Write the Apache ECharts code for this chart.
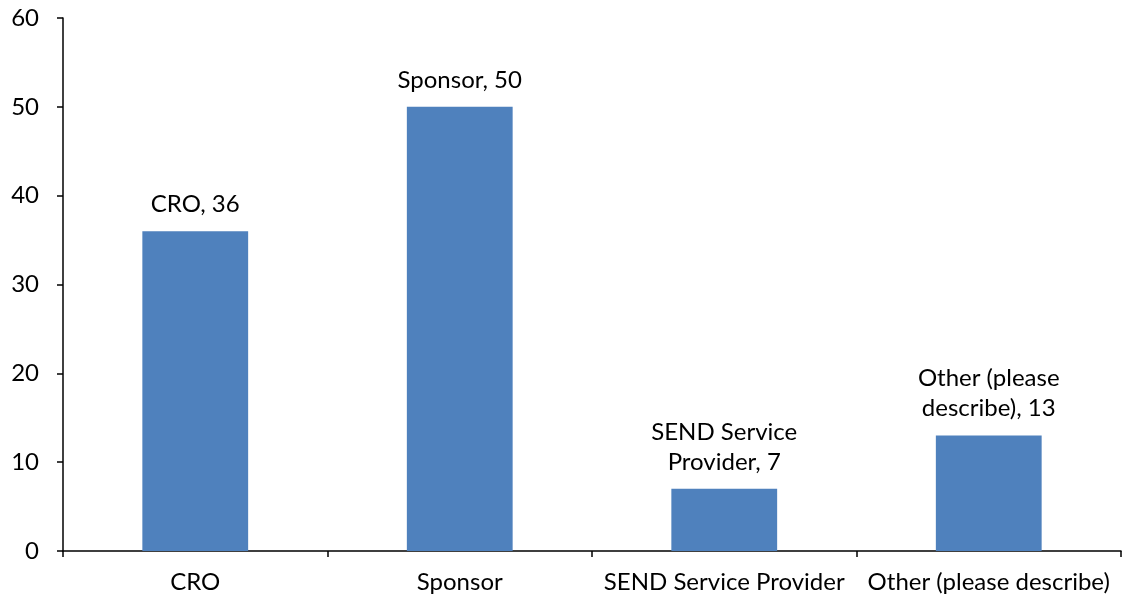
<!DOCTYPE html>
<html>
<head>
<meta charset="utf-8">
<script src="https://cdn.jsdelivr.net/npm/echarts@6/dist/echarts.min.js"></script>
<style>
html,body{margin:0;padding:0;background:#fff;}
#chart{width:1122px;height:601px;}
</style>
</head>
<body>
<div id="chart"></div>
<script>
const categories = ['CRO', 'Sponsor', 'SEND Service Provider', 'Other (please describe)'];
const labelTexts = ['CRO, 36', 'Sponsor, 50', 'SEND Service\nProvider, 7', 'Other (please\ndescribe), 13'];
const values = [36, 50, 7, 13];
const yTicks = [0, 10, 20, 30, 40, 50, 60];

const chart = echarts.init(document.getElementById('chart'));
const FONT = 'Lato';
chart.setOption({
  animation: false,
  backgroundColor: '#ffffff',
  grid: { left: 63, right: 1, top: 18, bottom: 50, containLabel: false },
  xAxis: {
    type: 'category',
    data: categories,
    axisLine: { lineStyle: { color: '#000', width: 1.5 } },
    axisTick: { show: true, alignWithLabel: false, length: 6, lineStyle: { color: '#000', width: 1.5 } },
    axisLabel: { color: '#000', fontFamily: FONT, fontSize: 24, margin: 19, interval: 0 }
  },
  yAxis: {
    type: 'value',
    min: yTicks[0],
    max: yTicks[yTicks.length - 1],
    interval: 10,
    splitLine: { show: false },
    axisLine: { show: true, lineStyle: { color: '#000', width: 1.5 } },
    axisTick: { show: true, length: 6, lineStyle: { color: '#000', width: 1.5 } },
    axisLabel: { color: '#000', fontFamily: FONT, fontSize: 24, margin: 24 }
  },
  series: [{
    type: 'bar',
    data: values,
    barWidth: '40%',
    itemStyle: { color: '#4F81BD' },
    label: {
      show: true,
      position: 'top',
      distance: 12,
      color: '#000',
      fontFamily: FONT,
      fontSize: 24,
      lineHeight: 30,
      formatter: p => labelTexts[p.dataIndex]
    }
  }]
});
</script>
</body>
</html>
